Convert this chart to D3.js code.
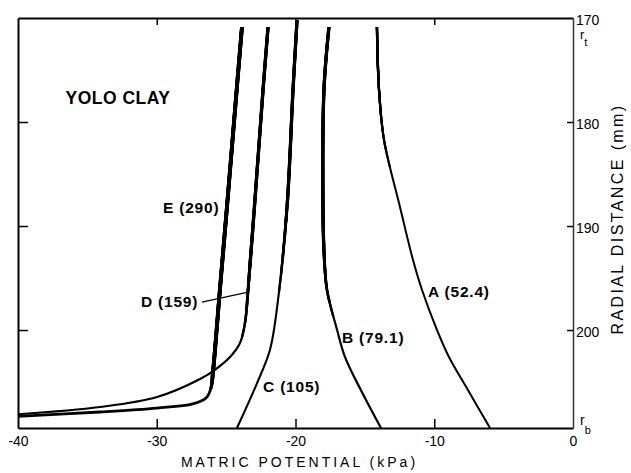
<!DOCTYPE html>
<html>
<head>
<meta charset="utf-8">
<script src="https://cdn.jsdelivr.net/npm/d3@7"></script>
<style>
  html, body { margin: 0; padding: 0; background: #fff; }
  svg { display: block; font-family: "Liberation Sans", Arial, Helvetica, sans-serif; }
</style>
</head>
<body>
<svg id="chart" width="631" height="473"></svg>
<script>
// ---- Data (matric potential kPa vs radial distance mm) ----
const curveNames = ["A (52.4)", "B (79.1)", "C (105)", "D (159)", "E (290)"];

const potA = [-14.13, -13.98, -13.62, -12.47, -11.53, -10.88, -9.8, -8.94, -7.57, -5.98];
const radA = [170.87, 176.92, 181.73, 188.17, 193.27, 196.15, 200.0, 202.6, 205.77, 209.42];

const potB = [-17.59, -17.95, -18.02, -17.95, -17.73, -17.0, -16.43, -15.29, -13.84];
const radB = [170.87, 176.92, 188.17, 192.3, 196.15, 200.0, 202.6, 205.77, 209.42];

const potC = [-19.89, -20.18, -20.61, -21.26, -21.84, -22.77, -24.22];
const radC = [170.19, 176.92, 188.17, 197.1, 201.9, 205.1, 209.42];

const potD = [-21.98, -22.34, -22.96, -23.42, -23.64, -24.0, -24.72, -25.73, -26.88, -29.98, -34.09, -40.0];
const radD = [170.87, 176.92, 188.17, 196.15, 199.33, 201.25, 202.6, 203.75, 204.71, 206.44, 207.4, 208.1];

const potE = [-23.86, -24.24, -24.94, -25.45, -25.95, -26.09, -26.45, -27.4, -29.98, -34.09, -40.0];
const radE = [170.87, 176.92, 188.17, 196.15, 204.1, 205.58, 206.54, 207.1, 207.5, 207.88, 208.3];

const xTicks = [-40, -30, -20, -10, 0];
const xTickLabels = ["-40", "-30", "-20", "-10", "0"];
const yTicks = [170, 180, 190, 200];
const yTickLabels = ["170", "180", "190", "200"];

// label anchor positions in data units
const labelPot = [-10.45, -16.65, -22.34, -31.14, -29.55];
const labelRad = [196.83, 201.25, 205.96, 197.79, 188.75];
const leaderPot = [-26.74, -23.42];
const leaderRad = [197.31, 196.35];

const title = "YOLO  CLAY";
const xTitle = "MATRIC POTENTIAL (kPa)";
const yTitle = "RADIAL DISTANCE (mm)";

// ---- Layout ----
const svg = d3.select("#chart");
const x = d3.scaleLinear().domain([-40, 0]).range([18, 573]);
const y = d3.scaleLinear().domain([170, 209.42]).range([18, 428]);

// line width tapers from `thick` (above thickTo mm) to `thin` over `taper` mm
const curves = [
  { pot: potA, rad: radA, thin: 2.0, thick: 2.4, thickTo: 176, taper: 10 },
  { pot: potB, rad: radB, thin: 2.2, thick: 3.3, thickTo: 192, taper: 8 },
  { pot: potC, rad: radC, thin: 2.1, thick: 3.3, thickTo: 188, taper: 10 },
  { pot: potD, rad: radD, thin: 2.2, thick: 3.3, thickTo: 194, taper: 8 },
  { pot: potE, rad: radE, thin: 2.8, thick: 3.9, thickTo: 204.5, taper: 1.5 }
];

// frame: top & left borders + ticks (inward)
const topAxis = d3.axisTop(x).tickValues([-30, -20, -10]).tickSizeInner(-7).tickSizeOuter(0).tickFormat("");
svg.append("g").attr("transform", `translate(0,${y(170)})`).call(topAxis)
  .call(g => g.select(".domain").attr("stroke", "#000").attr("stroke-width", 2.2))
  .call(g => g.selectAll(".tick line").attr("stroke", "#000").attr("stroke-width", 1.5));

const leftAxis = d3.axisLeft(y).tickValues([180, 190, 200]).tickSizeInner(-10).tickSizeOuter(0).tickFormat("");
svg.append("g").attr("transform", `translate(${x(-40)},0)`).call(leftAxis)
  .call(g => g.select(".domain").attr("stroke", "#000").attr("stroke-width", 2))
  .call(g => g.selectAll(".tick line").attr("stroke", "#000").attr("stroke-width", 1.5));

// bottom axis
const bottomAxis = d3.axisBottom(x).tickValues(xTicks).tickSizeInner(-9).tickSizeOuter(0).tickPadding(8)
  .tickFormat((d, i) => xTickLabels[i]);
svg.append("g").attr("transform", `translate(0,${y(209.42)})`).call(bottomAxis)
  .call(g => g.select(".domain").attr("stroke", "#000").attr("stroke-width", 2.2))
  .call(g => g.selectAll(".tick line").attr("stroke", "#000").attr("stroke-width", 1.5)
      .attr("display", d => (d === -40 || d === 0) ? "none" : null))
  .call(g => g.selectAll(".tick text").attr("font-size", 14).attr("fill", "#000")
      .attr("font-family", "Liberation Sans, Arial, sans-serif"));

// right axis
const rightAxis = d3.axisRight(y).tickValues(yTicks).tickSizeInner(-6).tickSizeOuter(0).tickPadding(3)
  .tickFormat((d, i) => yTickLabels[i]);
svg.append("g").attr("transform", `translate(${x(0)},0)`).call(rightAxis)
  .call(g => g.select(".domain").attr("stroke", "#333").attr("stroke-width", 1.5))
  .call(g => g.selectAll(".tick line").attr("stroke", "#000").attr("stroke-width", 1.5)
      .attr("display", d => d === 170 ? "none" : null))
  .call(g => g.selectAll(".tick text").attr("font-size", 14).attr("fill", "#000").attr("dy", "0.45em")
      .attr("font-family", "Liberation Sans, Arial, sans-serif"));

// r_t and r_b
const rt = svg.append("text").attr("x", x(0) + 7).attr("y", y(170) + 21).attr("font-size", 13);
rt.append("tspan").text("r");
rt.append("tspan").attr("font-size", 11).attr("dy", 7).text("t");
const rb = svg.append("text").attr("x", x(0) + 7).attr("y", y(209.42) - 3).attr("font-size", 14);
rb.append("tspan").text("r");
rb.append("tspan").attr("font-size", 11).attr("dy", 9).text("b");

// axis titles
svg.append("text").attr("x", (x(-40) + x(0)) / 2 + 4).attr("y", 467)
  .attr("text-anchor", "middle").attr("font-size", 14).attr("letter-spacing", 3).text(xTitle);
svg.append("text").attr("transform", `translate(623,${(y(180) + y(200)) / 2 - 7}) rotate(-90)`)
  .attr("text-anchor", "middle").attr("font-size", 16).attr("letter-spacing", 2.4).text(yTitle);

// curves
const defs = svg.append("defs");
const line = d3.line().x(d => x(d[0])).y(d => y(d[1])).curve(d3.curveCatmullRom.alpha(0.5));
const steps = 6;
curves.forEach((c, i) => {
  const pts = c.pot.map((p, j) => [p, c.rad[j]]);
  const d = line(pts);
  svg.append("path").attr("d", d).attr("fill", "none").attr("stroke", "#000")
    .attr("stroke-width", c.thin).attr("stroke-linejoin", "round");
  for (let k = 1; k <= steps; k++) {
    const id = `clip${i}_${k}`;
    const limit = c.thickTo + (steps - k) * c.taper / steps;
    defs.append("clipPath").attr("id", id).append("rect")
      .attr("x", 0).attr("y", 0).attr("width", 631).attr("height", y(limit));
    svg.append("path").attr("d", d).attr("fill", "none").attr("stroke", "#000")
      .attr("stroke-width", c.thin + (c.thick - c.thin) * k / steps)
      .attr("clip-path", `url(#${id})`);
  }
});

// leader line for D
svg.append("line").attr("x1", x(leaderPot[0])).attr("y1", y(leaderRad[0]))
  .attr("x2", x(leaderPot[1])).attr("y2", y(leaderRad[1])).attr("stroke", "#000").attr("stroke-width", 1.2);

// curve labels
curveNames.forEach((n, i) => {
  svg.append("text").attr("x", x(labelPot[i])).attr("y", y(labelRad[i]))
    .attr("font-size", 15.5).attr("font-weight", "bold").attr("letter-spacing", 0.8).text(n);
});

// title
svg.append("text").attr("x", x(-32.79)).attr("y", y(178.27)).attr("text-anchor", "middle")
  .attr("font-size", 17.5).attr("font-weight", "bold").attr("letter-spacing", 0.5).text(title);
</script>
</body>
</html>
